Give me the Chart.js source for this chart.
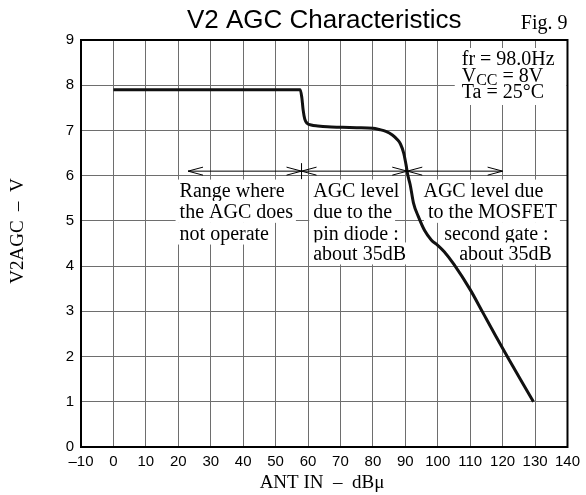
<!DOCTYPE html>
<html>
<head>
<meta charset="utf-8">
<script src="https://cdn.jsdelivr.net/npm/chart.js@4/dist/chart.umd.min.js"></script>
<style>
  html, body { margin: 0; padding: 0; background: #fff; }
</style>
</head>
<body>
<canvas id="agc-chart" width="586" height="495"></canvas>
<script>
// curve: ANT IN (dBu) -> V2AGC (V)
const antIn = [0, 57.6, 58.1, 58.5, 59.0, 59.7, 61, 63, 66, 70, 75, 80, 82, 84, 86, 87.5, 88.5, 89.5, 90.2, 90.8, 91.5, 92.5, 94, 96, 98, 100, 102, 105, 110, 114, 118, 122, 126, 129.5];
const v2agc = [7.9, 7.9, 7.72, 7.45, 7.25, 7.16, 7.12, 7.1, 7.08, 7.07, 7.06, 7.05, 7.02, 6.98, 6.9, 6.8, 6.7, 6.5, 6.25, 6.0, 5.8, 5.4, 5.1, 4.78, 4.58, 4.46, 4.32, 4.04, 3.48, 2.96, 2.44, 1.93, 1.43, 1.0];

// axis ranges
const xRange = [-10, 140];
const yRange = [0, 9];

// range arrows (dBu) drawn at 6.1 V
const arrowSpans = [[23, 58], [58, 90.6], [90.6, 120]];
const arrowLevel = 6.1;
const arrowMark = 58;

// notes under the arrows
const noteRows = [5.67, 5.2, 4.72, 4.28];
const noteIdle = ['Range where', 'the AGC does', 'not operate'];
const notePin = ['AGC level', 'due to the', 'pin diode :', 'about 35dB'];
const noteMos = ['AGC level due', 'to the MOSFET', 'second gate :', 'about 35dB'];
const noteIdleX = [20.4, 20.4, 20.4];
const notePinX = [61.6, 61.6, 61.6, 61.6];
const noteMosX = [95.6, 97, 102, 106.6];

// test conditions, second part of each row is a subscript
const conditions = [['fr = 98.0Hz'], ['V', 'CC', ' = 8V'], ['Ta = 25°C']];
const conditionRows = [8.58, 8.2, 7.85];
const conditionX = 107.4;

const serif = '"Liberation Serif", "Times New Roman", serif';
const sans = '"Liberation Sans", Arial, sans-serif';

function drawNotes(ctx, x, y, lines, xs) {
    lines.forEach((t, i) => {
        const px = x.getPixelForValue(xs[i]);
        const py = y.getPixelForValue(noteRows[i]);
        const w = ctx.measureText(t).width;
        ctx.fillStyle = '#fff';
        ctx.fillRect(px - 4, py - 11, w + 7, 22);
        ctx.fillStyle = '#000';
        ctx.fillText(t, px, py + 1);
    });
}

function drawArrowHead(ctx, px, py, dir) {
    ctx.beginPath();
    ctx.moveTo(px - dir * 15, py - 4);
    ctx.lineTo(px, py);
    ctx.lineTo(px - dir * 15, py + 4);
    ctx.stroke();
}

const figureText = {
    id: 'figureText',
    beforeDatasetsDraw(chart) {
        const {ctx, chartArea, scales: {x, y}} = chart;
        ctx.save();
        ctx.font = '20px ' + serif;
        ctx.textBaseline = 'middle';
        ctx.textAlign = 'left';
        drawNotes(ctx, x, y, noteIdle, noteIdleX);
        drawNotes(ctx, x, y, notePin, notePinX);
        drawNotes(ctx, x, y, noteMos, noteMosX);

        // conditions block in the top right corner
        const left = x.getPixelForValue(conditionX);
        ctx.fillStyle = '#fff';
        ctx.fillRect(left - 7, y.getPixelForValue(conditionRows[0]) - 11, chartArea.right - left + 6, 57);
        ctx.fillStyle = '#000';
        conditions.forEach((parts, i) => {
            let px = left;
            const py = y.getPixelForValue(conditionRows[i]);
            parts.forEach((p, j) => {
                const sub = j === 1;
                ctx.font = (sub ? '16px ' : '20px ') + serif;
                ctx.fillText(p, px, py + (sub ? 5 : 1));
                px += ctx.measureText(p).width;
            });
        });
        ctx.restore();
    },
    afterDatasetsDraw(chart) {
        const {ctx, chartArea, scales: {x, y}} = chart;
        ctx.save();
        ctx.strokeStyle = '#000';
        ctx.lineWidth = 1;
        const py = y.getPixelForValue(arrowLevel);
        arrowSpans.forEach(([a, b]) => {
            const pa = x.getPixelForValue(a), pb = x.getPixelForValue(b);
            ctx.beginPath();
            ctx.moveTo(pa, py);
            ctx.lineTo(pb, py);
            ctx.stroke();
            drawArrowHead(ctx, pa, py, -1);
            drawArrowHead(ctx, pb, py, 1);
        });
        const pm = x.getPixelForValue(arrowMark);
        ctx.beginPath();
        ctx.moveTo(pm, py - 8);
        ctx.lineTo(pm, py + 8);
        ctx.stroke();

        // frame
        ctx.lineWidth = 2;
        ctx.strokeRect(chartArea.left, chartArea.top, chartArea.right - chartArea.left, chartArea.bottom - chartArea.top);
        ctx.restore();
    },
    afterDraw(chart) {
        const {ctx, chartArea} = chart;
        ctx.save();
        ctx.fillStyle = '#000';
        ctx.textBaseline = 'alphabetic';
        ctx.textAlign = 'center';
        ctx.font = '26px ' + sans;
        ctx.fillText('V2 AGC Characteristics', (chartArea.left + chartArea.right) / 2, 28);
        ctx.textAlign = 'right';
        ctx.font = '20px ' + serif;
        ctx.fillText('Fig. 9', chartArea.right, 29);

        ctx.textAlign = 'center';
        ctx.textBaseline = 'middle';
        ctx.font = '19px ' + serif;
        ctx.fillText('ANT IN  \u2013  dB\u03bc', 322, 483);
        ctx.translate(18, 231);
        ctx.rotate(-Math.PI / 2);
        ctx.fillText('V2AGC  \u2013  V', 0, 0);
        ctx.restore();
    }
};

const ctx = document.getElementById('agc-chart').getContext('2d');

new Chart(ctx, {
    type: 'line',
    data: {
        datasets: [{
            label: 'V2AGC',
            data: antIn.map((v, i) => ({x: v, y: v2agc[i]})),
            borderColor: '#111',
            borderWidth: 3,
            pointRadius: 0,
            fill: false,
            cubicInterpolationMode: 'monotone'
        }]
    },
    options: {
        responsive: false,
        animation: false,
        layout: {padding: {top: 40, right: 14, left: 0, bottom: 0}},
        plugins: {
            legend: {display: false},
            tooltip: {enabled: false}
        },
        scales: {
            x: {
                type: 'linear',
                min: xRange[0],
                max: xRange[1],
                afterFit: s => { s.height = 48; },
                ticks: {
                    stepSize: 10,
                    padding: 6,
                    color: '#000',
                    maxRotation: 0,
                    font: {family: sans, size: 15},
                    callback: v => v < 0 ? '\u2013' + Math.abs(v) : String(v)
                },
                grid: {color: '#6e6e6e', lineWidth: 1, drawTicks: false},
                border: {display: false}
            },
            y: {
                min: yRange[0],
                max: yRange[1],
                afterFit: s => { s.width = 81; },
                ticks: {
                    stepSize: 1,
                    padding: 7,
                    color: '#000',
                    font: {family: sans, size: 15}
                },
                grid: {color: '#6e6e6e', lineWidth: 1, drawTicks: false},
                border: {display: false}
            }
        }
    },
    plugins: [figureText]
});
</script>
</body>
</html>
